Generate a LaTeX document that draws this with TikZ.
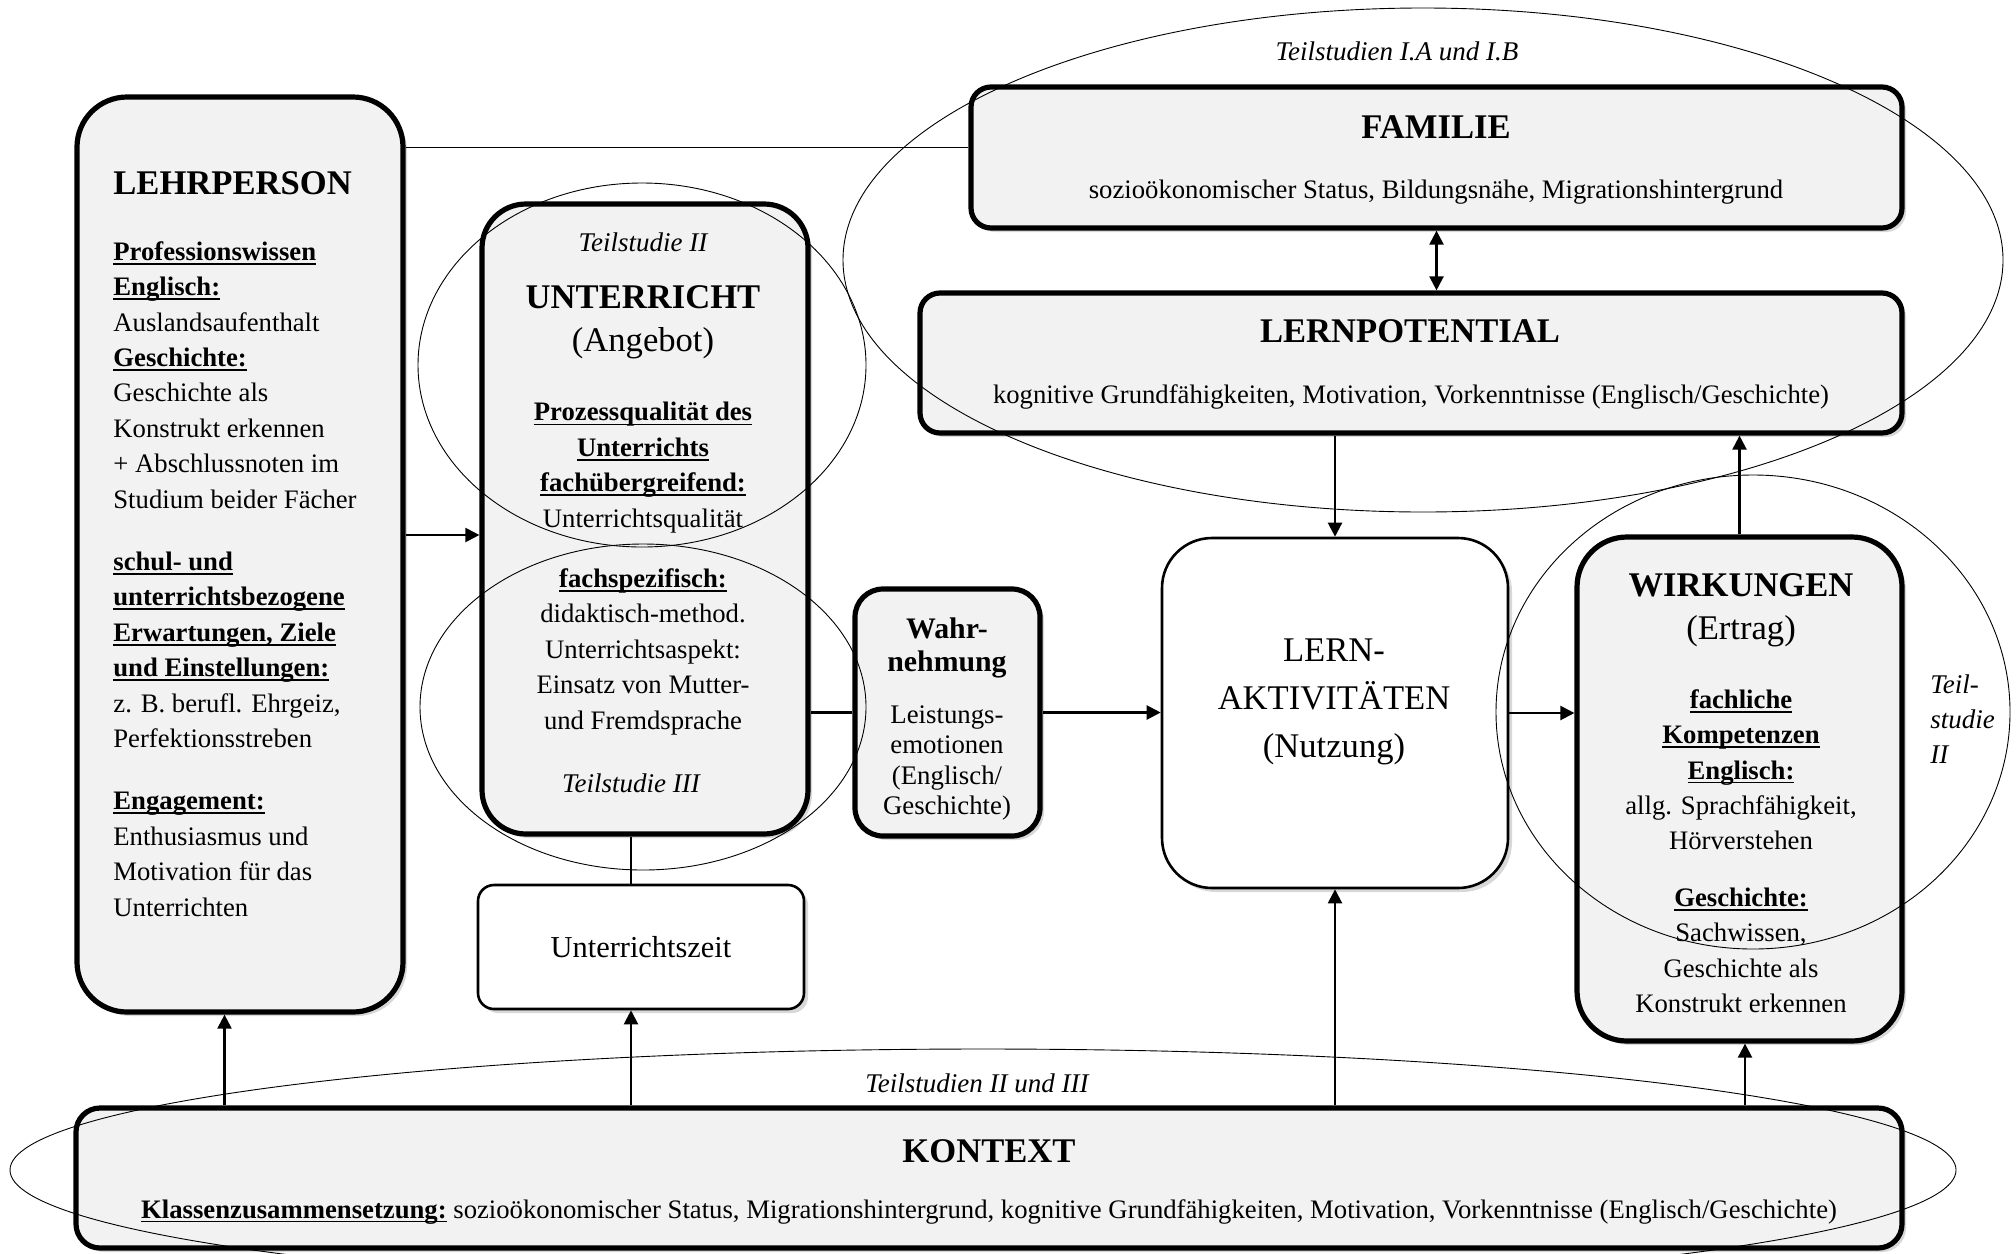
\documentclass[tikz,border=0pt]{standalone}
\usepackage{fontspec}
\setmainfont{Liberation Serif}
\usetikzlibrary{shadows,arrows.meta}
\definecolor{boxgray}{RGB}{242,242,242}
\newsavebox\ubox
\newcommand{\uhead}[1]{\sbox\ubox{\textbf{#1}}\rlap{\rule[-2.2pt]{\wd\ubox}{0.9pt}}\usebox\ubox}

\begin{document}
\begin{tikzpicture}[x=0.5pt,y=-0.5pt,
    box/.style={draw,line width=2.6pt,fill=boxgray,rounded corners=#1,
      drop shadow={shadow xshift=2pt,shadow yshift=-2pt,opacity=0.3}},
    box/.default=10pt,
    wbox/.style={draw,line width=1.3pt,fill=white,rounded corners=#1,
      drop shadow={shadow xshift=2pt,shadow yshift=-2pt,opacity=0.3}},
    wbox/.default=10pt,
    txt/.style={inner sep=0pt,font=\fontsize{13.35}{17.7}\selectfont},
    ttl/.style={inner sep=0pt,font=\fontsize{17.3}{21}\selectfont\bfseries},
    big/.style={inner sep=0pt,font=\fontsize{17.3}{24}\selectfont},
    ital/.style={inner sep=0pt,font=\fontsize{13.5}{17.5}\selectfont\itshape},
    arr/.style={-{Triangle[length=7pt,width=7pt]},line width=1.1pt},
    dbl/.style={{Triangle[length=7pt,width=7pt]}-{Triangle[length=7pt,width=7pt]},line width=1.1pt},
    con/.style={line width=1.1pt},
    ring/.style={line width=0.45pt}]
    \path[use as bounding box,fill=white] (0,0) rectangle (2016,1253);

    % boxes
    \node[box=25pt,minimum width=163pt,minimum height=457.5pt] (lehr) at (240,554.5) {};
    \node[box=22pt,minimum width=163pt,minimum height=315pt] (unt) at (645,519) {};
    \node[box,minimum width=465.5pt,minimum height=70.5pt] (fam) at (1436.5,157.5) {};
    \node[box,minimum width=491pt,minimum height=70pt] (pot) at (1411,363) {};
    \node[box=14pt,minimum width=92.5pt,minimum height=123.5pt] (wahr) at (947.5,712.5) {};
    \node[wbox=25pt,minimum width=173pt,minimum height=175pt] (lern) at (1335,713) {};
    \node[box=25pt,minimum width=162.5pt,minimum height=252pt] (wirk) at (1739.5,789) {};
    \node[wbox=8pt,minimum width=163pt,minimum height=62pt] (zeit) at (641,947) {};
    \node[box=12pt,minimum width=913pt,minimum height=70pt] (kon) at (989,1178) {};

    % connectors
    \coordinate (famin) at ([yshift=5pt]fam.west);
    \coordinate (untin) at ([yshift=-8pt]unt.west);
    \coordinate (zt) at ([xshift=-5pt]zeit.north);
    \coordinate (zb) at ([xshift=-5pt]zeit.south);
    \coordinate (lb) at ([xshift=-7.75pt]lehr.south);
    \coordinate (wb) at ([xshift=2.75pt]wirk.south);
    \draw[line width=0.8pt] (famin -| lehr.east) -- (famin);
    \draw[arr] (untin -| lehr.east) -- (untin);
    \draw[con] (unt.east |- wahr.west) -- (wahr.west);
    \draw[arr] (wahr.east) -- (wahr.east -| lern.west);
    \draw[arr] (lern.east) -- (lern.east -| wirk.west);
    \draw[dbl] (fam.south) -- (fam.south |- pot.north);
    \draw[arr] (lern.north |- pot.south) -- (lern.north);
    \draw[arr] (wirk.north) -- (wirk.north |- pot.south);
    \draw[con] (zt) -- (zt |- unt.south);
    \draw[arr] (lb |- kon.north) -- (lb);
    \draw[arr] (zb |- kon.north) -- (zb);
    \draw[arr] (lern.south |- kon.north) -- (lern.south);
    \draw[arr] (wb |- kon.north) -- (wb);

    % Teilstudien
    \draw[ring] (1423,260) ellipse [x radius=290pt,y radius=126pt];
    \draw[ring] (642,365) ellipse [x radius=112pt,y radius=91pt];
    \draw[ring] (643,707) ellipse [x radius=111.5pt,y radius=81.5pt];
    \draw[ring] (1753,712) ellipse [x radius=128.5pt,y radius=118.5pt];
    \draw[ring] (983,1170) ellipse [x radius=486.5pt,y radius=60.5pt];

    \node[ital,anchor=base] (tsI) at (1397,60) {Teilstudien I.A und I.B};
    \node[ital,anchor=base] (tsIIa) at (643,251) {Teilstudie II};
    \node[ital,anchor=base] (tsIII) at (631,792) {Teilstudie III};
    \node[ital,anchor=north west,align=left] (tsIIb) at (1930,674) {Teil-\\studie\\II};
    \node[ital,anchor=base] (tsIIIII) at (977,1092) {Teilstudien II und III};

    % texts
    \node[ttl,anchor=base west] (lehrT) at (113,194) {LEHRPERSON};
    \node[txt,anchor=north west,align=left] (lehrB) at (113,241) {\uhead{Professionswissen}\\
      \uhead{Englisch:}\\ Auslandsaufenthalt\\ \uhead{Geschichte:}\\ Geschichte als\\
      Konstrukt erkennen\\ + Abschlussnoten im\\ Studium beider Fächer\\[13.5pt]
      \uhead{schul- und}\\ \uhead{unterrichtsbezogene}\\ \uhead{Erwartungen, Ziele}\\
      \uhead{und Einstellungen:}\\ z. B. berufl. Ehrgeiz,\\ Perfektionsstreben\\[13.5pt]
      \uhead{Engagement:}\\ Enthusiasmus und\\ Motivation für das\\ Unterrichten};

    \node[ttl,anchor=base] (untT) at (643,308) {UNTERRICHT};
    \node[big,anchor=base] (untA) at (643,351) {(Angebot)};
    \node[txt,anchor=north,align=center] (untB) at (643,402) {\uhead{Prozessqualität des}\\
      \uhead{Unterrichts}\\ \uhead{fachübergreifend:}\\ Unterrichtsqualität\\[12.5pt]
      \uhead{fachspezifisch:}\\ didaktisch-method.\\ Unterrichtsaspekt:\\
      Einsatz von Mutter-\\ und Fremdsprache};

    \node[ttl,anchor=base] (famT) at (1436,138) {FAMILIE};
    \node[txt,anchor=base] (famS) at (1436,198) {sozioökonomischer Status, Bildungsnähe, Migrationshintergrund};
    \node[ttl,anchor=base] (potT) at (1410,342) {LERNPOTENTIAL};
    \node[txt,anchor=base] (potS) at (1411,403) {kognitive Grundfähigkeiten, Motivation, Vorkenntnisse (Englisch/Geschichte)};

    \node[inner sep=0pt,font=\fontsize{14.9}{16.5}\selectfont\bfseries,anchor=north,align=center] (wahrT) at (947,617) {Wahr-\\nehmung};
    \node[inner sep=0pt,font=\fontsize{13.4}{15.25}\selectfont,anchor=north,align=center] (wahrB) at (947,705) {Leistungs-\\emotionen\\(Englisch/\\Geschichte)};

    \node[big,anchor=north,align=center] (lernT) at (1334,638) {LERN-\\AKTIVITÄTEN\\(Nutzung)};

    \node[ttl,anchor=base] (wirkT) at (1741,596) {WIRKUNGEN};
    \node[big,anchor=base] (wirkE) at (1741,639) {(Ertrag)};
    \node[txt,anchor=north,align=center] (wirkB) at (1741,689) {\uhead{fachliche}\\
      \uhead{Kompetenzen}\\ \uhead{Englisch:}\\ allg. Sprachfähigkeit,\\ Hörverstehen\\[10.5pt]
      \uhead{Geschichte:}\\ Sachwissen,\\ Geschichte als\\ Konstrukt erkennen};

    \node[inner sep=0pt,font=\fontsize{15.2}{18}\selectfont,anchor=base] (zeitT) at (641,957) {Unterrichtszeit};

    \node[ttl,anchor=base] (konT) at (989,1162) {KONTEXT};
    \node[txt,anchor=base] (konS) at (989,1218) {\uhead{Klassenzusammensetzung:} sozioökonomischer Status, Migrationshintergrund, kognitive Grundfähigkeiten, Motivation, Vorkenntnisse (Englisch/Geschichte)};
\end{tikzpicture}
\end{document}
